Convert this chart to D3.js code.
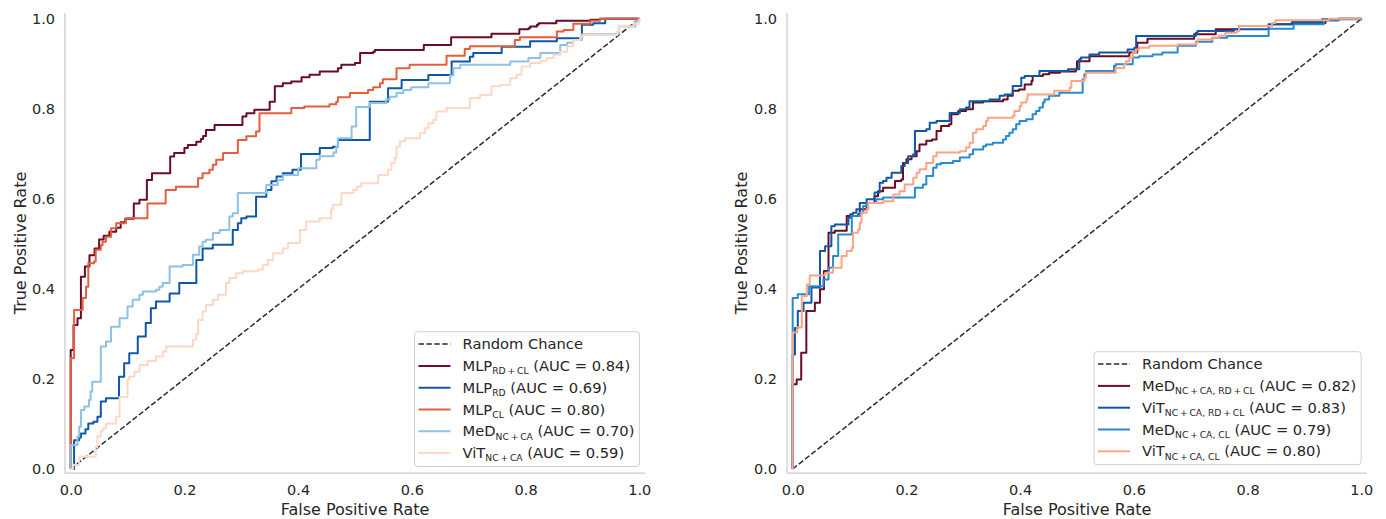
<!DOCTYPE html>
<html>
<head>
<meta charset="utf-8">
<script src="https://cdn.jsdelivr.net/npm/d3@7"></script>
<style>
  body { margin: 0; background: #fff; }
  svg text { font-family: "DejaVu Sans", sans-serif; fill: #262626; }
</style>
</head>
<body>
<div id="chart"></div>
<script>
// tick values, shared by both panels
const ticks = [0, 0.2, 0.4, 0.6, 0.8, 1.0]
const chance = [[0, 0], [1, 1]]

// left panel legend
const leftNames = ['MLP', 'MLP', 'MLP', 'MeD', 'ViT']
const leftSubs = ['RD\u2009+\u2009CL', 'RD', 'CL', 'NC\u2009+\u2009CA', 'NC\u2009+\u2009CA']
const leftAuc = ['0.84', '0.69', '0.80', '0.70', '0.59']
const leftColors = ['#6a0d25', '#0f58a8', '#e2603f', '#8ec1e4', '#fdd8c4']

// right panel legend
const rightNames = ['MeD', 'ViT', 'MeD', 'ViT']
const rightSubs = ['NC\u2009+\u2009CA, RD\u2009+\u2009CL', 'NC\u2009+\u2009CA, RD\u2009+\u2009CL', 'NC\u2009+\u2009CA, CL', 'NC\u2009+\u2009CA, CL']
const rightAuc = ['0.82', '0.83', '0.79', '0.80']
const rightColors = ['#6a0d25', '#0f58a8', '#2a8ad0', '#fca486']

// ROC points [fpr, tpr] (tpr after the rise at that fpr)
const mlpRdCl = [[0,0],[0,0.264],[0.005,0.32],[0.012,0.335],[0.018,0.427],[0.025,0.45],[0.033,0.475],[0.042,0.49],[0.05,0.51],[0.058,0.518],[0.068,0.527],[0.08,0.536],[0.088,0.548],[0.096,0.556],[0.111,0.59],[0.121,0.598],[0.134,0.642],[0.143,0.657],[0.175,0.694],[0.182,0.702],[0.2,0.713],[0.206,0.72],[0.221,0.727],[0.229,0.733],[0.233,0.74],[0.238,0.753],[0.253,0.764],[0.302,0.783],[0.309,0.79],[0.323,0.798],[0.35,0.816],[0.359,0.85],[0.373,0.857],[0.388,0.861],[0.406,0.87],[0.42,0.876],[0.438,0.883],[0.47,0.89],[0.476,0.898],[0.5,0.902],[0.509,0.924],[0.532,0.927],[0.535,0.931],[0.621,0.942],[0.669,0.959],[0.74,0.967],[0.789,0.977],[0.805,0.979],[0.808,0.983],[0.82,0.987],[0.823,0.99],[0.854,0.996],[0.914,0.998],[0.931,1],[1,1]]
const mlpRd = [[0,0],[0.006,0.064],[0.015,0.07],[0.018,0.079],[0.026,0.088],[0.031,0.101],[0.04,0.105],[0.047,0.116],[0.053,0.15],[0.062,0.157],[0.085,0.205],[0.094,0.235],[0.103,0.257],[0.118,0.294],[0.132,0.324],[0.141,0.357],[0.15,0.372],[0.174,0.39],[0.191,0.413],[0.221,0.464],[0.232,0.49],[0.25,0.498],[0.285,0.531],[0.294,0.546],[0.3,0.557],[0.309,0.561],[0.326,0.605],[0.344,0.62],[0.353,0.639],[0.362,0.65],[0.373,0.657],[0.39,0.665],[0.405,0.7],[0.438,0.713],[0.461,0.716],[0.47,0.731],[0.526,0.816],[0.558,0.846],[0.582,0.864],[0.629,0.875],[0.67,0.905],[0.702,0.916],[0.708,0.924],[0.758,0.938],[0.808,0.95],[0.855,0.957],[0.899,0.987],[0.919,0.99],[0.94,1],[1,1]]
const mlpCl = [[0,0],[0,0.246],[0.006,0.353],[0.021,0.38],[0.027,0.405],[0.031,0.457],[0.041,0.461],[0.044,0.487],[0.053,0.497],[0.056,0.505],[0.062,0.516],[0.071,0.535],[0.08,0.546],[0.097,0.557],[0.135,0.59],[0.167,0.62],[0.185,0.627],[0.224,0.646],[0.232,0.657],[0.244,0.665],[0.25,0.676],[0.256,0.687],[0.268,0.702],[0.294,0.731],[0.309,0.739],[0.326,0.75],[0.332,0.79],[0.388,0.802],[0.411,0.805],[0.455,0.81],[0.467,0.816],[0.47,0.826],[0.491,0.835],[0.523,0.842],[0.532,0.848],[0.544,0.857],[0.549,0.866],[0.573,0.89],[0.596,0.898],[0.661,0.918],[0.693,0.933],[0.702,0.939],[0.781,0.953],[0.79,0.959],[0.855,0.972],[0.867,0.975],[0.884,0.989],[0.914,0.996],[0.931,1],[1,1]]
const medNcCa = [[0,0],[0,0.053],[0.012,0.072],[0.015,0.094],[0.018,0.131],[0.024,0.139],[0.032,0.153],[0.035,0.172],[0.038,0.194],[0.053,0.272],[0.062,0.283],[0.071,0.316],[0.086,0.335],[0.1,0.361],[0.109,0.376],[0.121,0.387],[0.127,0.394],[0.15,0.398],[0.156,0.405],[0.162,0.413],[0.174,0.45],[0.197,0.453],[0.215,0.476],[0.226,0.494],[0.232,0.505],[0.238,0.509],[0.25,0.524],[0.262,0.531],[0.279,0.561],[0.285,0.568],[0.294,0.613],[0.344,0.631],[0.364,0.642],[0.373,0.653],[0.4,0.668],[0.432,0.687],[0.438,0.695],[0.462,0.703],[0.467,0.716],[0.47,0.735],[0.494,0.761],[0.502,0.804],[0.526,0.813],[0.555,0.821],[0.561,0.827],[0.573,0.835],[0.585,0.842],[0.599,0.848],[0.629,0.857],[0.667,0.874],[0.673,0.89],[0.685,0.898],[0.773,0.905],[0.805,0.913],[0.826,0.924],[0.861,0.942],[0.873,0.947],[0.884,0.953],[0.899,0.966],[0.964,0.983],[0.993,0.996],[1,1]]
const vitNcCa = [[0,0],[0.004,0.009],[0.015,0.027],[0.044,0.049],[0.047,0.072],[0.053,0.083],[0.056,0.09],[0.062,0.101],[0.08,0.116],[0.086,0.16],[0.1,0.198],[0.103,0.205],[0.112,0.216],[0.121,0.231],[0.135,0.24],[0.15,0.25],[0.162,0.261],[0.168,0.272],[0.215,0.287],[0.221,0.3],[0.224,0.331],[0.232,0.35],[0.238,0.364],[0.25,0.376],[0.259,0.387],[0.273,0.413],[0.279,0.424],[0.291,0.435],[0.303,0.439],[0.329,0.443],[0.338,0.453],[0.347,0.464],[0.356,0.479],[0.373,0.49],[0.382,0.502],[0.403,0.531],[0.414,0.55],[0.438,0.557],[0.458,0.576],[0.461,0.587],[0.476,0.613],[0.497,0.62],[0.503,0.627],[0.511,0.635],[0.541,0.653],[0.558,0.665],[0.564,0.68],[0.57,0.691],[0.573,0.716],[0.579,0.728],[0.588,0.735],[0.614,0.746],[0.623,0.757],[0.629,0.768],[0.638,0.776],[0.643,0.794],[0.661,0.802],[0.702,0.824],[0.72,0.831],[0.74,0.85],[0.755,0.853],[0.773,0.868],[0.784,0.876],[0.793,0.894],[0.808,0.902],[0.826,0.907],[0.837,0.913],[0.849,0.92],[0.861,0.927],[0.873,0.939],[0.884,0.953],[0.896,0.961],[0.902,0.964],[0.961,0.972],[0.964,0.983],[0.99,0.989],[1,1]]

const medAll = [[0,0],[0,0.188],[0.007,0.199],[0.015,0.258],[0.024,0.351],[0.039,0.369],[0.048,0.399],[0.055,0.44],[0.063,0.525],[0.074,0.529],[0.095,0.562],[0.115,0.566],[0.118,0.577],[0.13,0.591],[0.144,0.606],[0.15,0.617],[0.159,0.625],[0.18,0.64],[0.191,0.643],[0.194,0.68],[0.2,0.688],[0.209,0.695],[0.218,0.706],[0.223,0.721],[0.235,0.729],[0.245,0.732],[0.253,0.751],[0.261,0.762],[0.275,0.766],[0.279,0.788],[0.291,0.795],[0.305,0.799],[0.317,0.814],[0.335,0.817],[0.37,0.821],[0.378,0.829],[0.387,0.84],[0.398,0.843],[0.408,0.854],[0.42,0.862],[0.422,0.873],[0.44,0.877],[0.451,0.88],[0.47,0.883],[0.498,0.888],[0.5,0.906],[0.522,0.917],[0.592,0.925],[0.606,0.947],[0.624,0.956],[0.706,0.966],[0.744,0.977],[0.785,0.984],[0.843,0.988],[0.88,0.991],[0.937,0.997],[0.96,1],[1,1]]
const vitAll = [[0,0],[0,0.254],[0.004,0.313],[0.009,0.351],[0.019,0.369],[0.033,0.403],[0.048,0.484],[0.057,0.495],[0.068,0.539],[0.074,0.543],[0.098,0.558],[0.101,0.566],[0.106,0.569],[0.112,0.577],[0.118,0.591],[0.13,0.599],[0.144,0.614],[0.153,0.636],[0.159,0.64],[0.165,0.647],[0.174,0.658],[0.191,0.673],[0.197,0.68],[0.203,0.695],[0.212,0.699],[0.215,0.751],[0.235,0.755],[0.241,0.769],[0.253,0.773],[0.276,0.791],[0.294,0.799],[0.305,0.803],[0.311,0.817],[0.346,0.821],[0.364,0.829],[0.373,0.832],[0.387,0.851],[0.402,0.869],[0.408,0.873],[0.434,0.884],[0.484,0.888],[0.504,0.91],[0.507,0.914],[0.522,0.921],[0.539,0.925],[0.589,0.932],[0.601,0.936],[0.604,0.962],[0.709,0.969],[0.712,0.973],[0.776,0.977],[0.837,0.988],[0.878,0.993],[0.931,0.999],[1,1]]
const medCl = [[0,0],[0,0.38],[0.009,0.388],[0.029,0.406],[0.054,0.421],[0.063,0.447],[0.071,0.473],[0.08,0.521],[0.104,0.562],[0.118,0.569],[0.124,0.584],[0.13,0.591],[0.147,0.599],[0.159,0.603],[0.215,0.625],[0.229,0.632],[0.235,0.651],[0.247,0.669],[0.253,0.677],[0.261,0.68],[0.282,0.684],[0.294,0.692],[0.311,0.699],[0.317,0.71],[0.335,0.717],[0.34,0.721],[0.352,0.725],[0.37,0.732],[0.375,0.74],[0.381,0.747],[0.387,0.755],[0.393,0.766],[0.399,0.773],[0.411,0.777],[0.422,0.788],[0.428,0.795],[0.434,0.803],[0.44,0.814],[0.443,0.821],[0.451,0.829],[0.469,0.836],[0.51,0.866],[0.513,0.877],[0.516,0.884],[0.565,0.895],[0.568,0.899],[0.598,0.914],[0.609,0.917],[0.633,0.921],[0.65,0.925],[0.677,0.94],[0.709,0.949],[0.738,0.958],[0.764,0.962],[0.837,0.978],[0.881,0.988],[0.934,0.997],[0.96,1],[1,1]]
const vitCl = [[0,0],[0,0.303],[0.008,0.314],[0.016,0.384],[0.025,0.41],[0.03,0.43],[0.057,0.436],[0.071,0.447],[0.086,0.473],[0.095,0.484],[0.104,0.491],[0.106,0.525],[0.115,0.532],[0.118,0.547],[0.121,0.569],[0.13,0.577],[0.133,0.591],[0.159,0.595],[0.177,0.61],[0.188,0.617],[0.197,0.632],[0.212,0.647],[0.218,0.658],[0.223,0.666],[0.235,0.68],[0.247,0.695],[0.253,0.703],[0.294,0.706],[0.305,0.714],[0.311,0.725],[0.317,0.747],[0.323,0.755],[0.335,0.762],[0.34,0.773],[0.343,0.78],[0.387,0.784],[0.39,0.795],[0.399,0.806],[0.402,0.814],[0.411,0.821],[0.413,0.832],[0.46,0.84],[0.487,0.847],[0.49,0.862],[0.513,0.869],[0.516,0.88],[0.568,0.891],[0.583,0.899],[0.586,0.906],[0.592,0.914],[0.598,0.925],[0.604,0.932],[0.609,0.936],[0.627,0.94],[0.677,0.943],[0.709,0.947],[0.712,0.954],[0.738,0.958],[0.75,0.963],[0.761,0.969],[0.781,0.973],[0.785,0.984],[0.843,0.991],[0.849,0.997],[0.943,1],[1,1]]

const leftCurves = [mlpRdCl, mlpRd, mlpCl, medNcCa, vitNcCa]
const rightCurves = [medAll, vitAll, medCl, vitCl]

const svg = d3.select('#chart').append('svg')
  .attr('width', 1386)
  .attr('height', 519)

const axTop = 13, axBottom = 473
const dash = '5.5,2.4'

function drawPanel(left, right, curves, colors, names, subs, aucs, yLabelX, legendLeft, legendTop) {
  const x = d3.scaleLinear().domain([-0.01, 1.01]).range([left, right])
  const y = d3.scaleLinear().domain([-0.009, 1.013]).range([axBottom, axTop])
  const g = svg.append('g')

  // spines
  g.append('line')
    .attr('x1', left).attr('x2', left).attr('y1', axTop).attr('y2', axBottom)
    .attr('stroke', '#cccccc').attr('stroke-width', 1.25)
  g.append('line')
    .attr('x1', left).attr('x2', right).attr('y1', axBottom).attr('y2', axBottom)
    .attr('stroke', '#cccccc').attr('stroke-width', 1.25)

  const xAxis = g.append('g')
    .attr('transform', 'translate(0,' + axBottom + ')')
    .call(d3.axisBottom(x).tickValues(ticks).tickSize(0).tickPadding(11.5).tickFormat(d3.format('.1f')))
  const yAxis = g.append('g')
    .attr('transform', 'translate(' + left + ',0)')
    .call(d3.axisLeft(y).tickValues(ticks).tickSize(0).tickPadding(10).tickFormat(d3.format('.1f')))
  ;[xAxis, yAxis].forEach(a => {
    a.select('.domain').remove()
    a.selectAll('text').style('font-size', '14.5px').attr('fill', '#262626')
      .style('font-family', '"DejaVu Sans", sans-serif')
  })

  g.append('text')
    .attr('x', (left + right) / 2).attr('y', 515)
    .attr('text-anchor', 'middle').style('font-size', '16px')
    .text('False Positive Rate')
  g.append('text')
    .attr('transform', 'translate(' + yLabelX + ',' + (axTop + axBottom) / 2 + ') rotate(-90)')
    .attr('text-anchor', 'middle').style('font-size', '16px')
    .text('True Positive Rate')

  const line = d3.line()
    .x(d => x(d[0]))
    .y(d => y(d[1]))
    .curve(d3.curveStepAfter)

  g.append('path')
    .attr('d', d3.line().x(d => x(d[0])).y(d => y(d[1]))(chance))
    .attr('fill', 'none').attr('stroke', '#2b2b2b')
    .attr('stroke-width', 1.5).attr('stroke-dasharray', dash)

  curves.forEach((c, i) => {
    g.append('path')
      .attr('d', line(c))
      .attr('fill', 'none')
      .attr('stroke', colors[i])
      .attr('stroke-width', 2)
      .attr('stroke-linejoin', 'round')
  })

  // legend
  const rowH = 21.8
  const rows = names.length + 1
  const lg = g.append('g').attr('transform', 'translate(' + legendLeft + ',' + legendTop + ')')
  const box = lg.append('rect')
    .attr('x', 0).attr('y', 0)
    .attr('height', rows * rowH + 4)
    .attr('rx', 3)
    .attr('fill', '#ffffff').attr('fill-opacity', 0.85)
    .attr('stroke', '#d0d0d0').attr('stroke-width', 1)

  let maxW = 0
  for (let r = 0; r < rows; r++) {
    const cy = 12.4 + r * rowH
    const sample = lg.append('line')
      .attr('x1', 4).attr('x2', 36).attr('y1', cy).attr('y2', cy)
    const t = lg.append('text')
      .attr('x', 48).attr('y', cy + 5.2)
      .style('font-size', '14.7px')
    if (r == 0) {
      sample.attr('stroke', '#2b2b2b').attr('stroke-width', 1.5).attr('stroke-dasharray', dash)
      t.text('Random Chance')
    } else {
      sample.attr('stroke', colors[r - 1]).attr('stroke-width', 2)
      t.append('tspan').text(names[r - 1])
      t.append('tspan').attr('dy', 3.2).style('font-size', '9.2px').text(subs[r - 1])
      t.append('tspan').attr('dy', -3.2).text(' (AUC = ' + aucs[r - 1] + ')')
    }
    maxW = Math.max(maxW, t.node().getComputedTextLength())
  }
  box.attr('width', 48 + maxW + 5)
}

drawPanel(65, 645, leftCurves, leftColors, leftNames, leftSubs, leftAuc, 25.5, 414.5, 331.7)
drawPanel(787, 1367, rightCurves, rightColors, rightNames, rightSubs, rightAuc, 747, 1094, 351.7)
</script>
</body>
</html>
